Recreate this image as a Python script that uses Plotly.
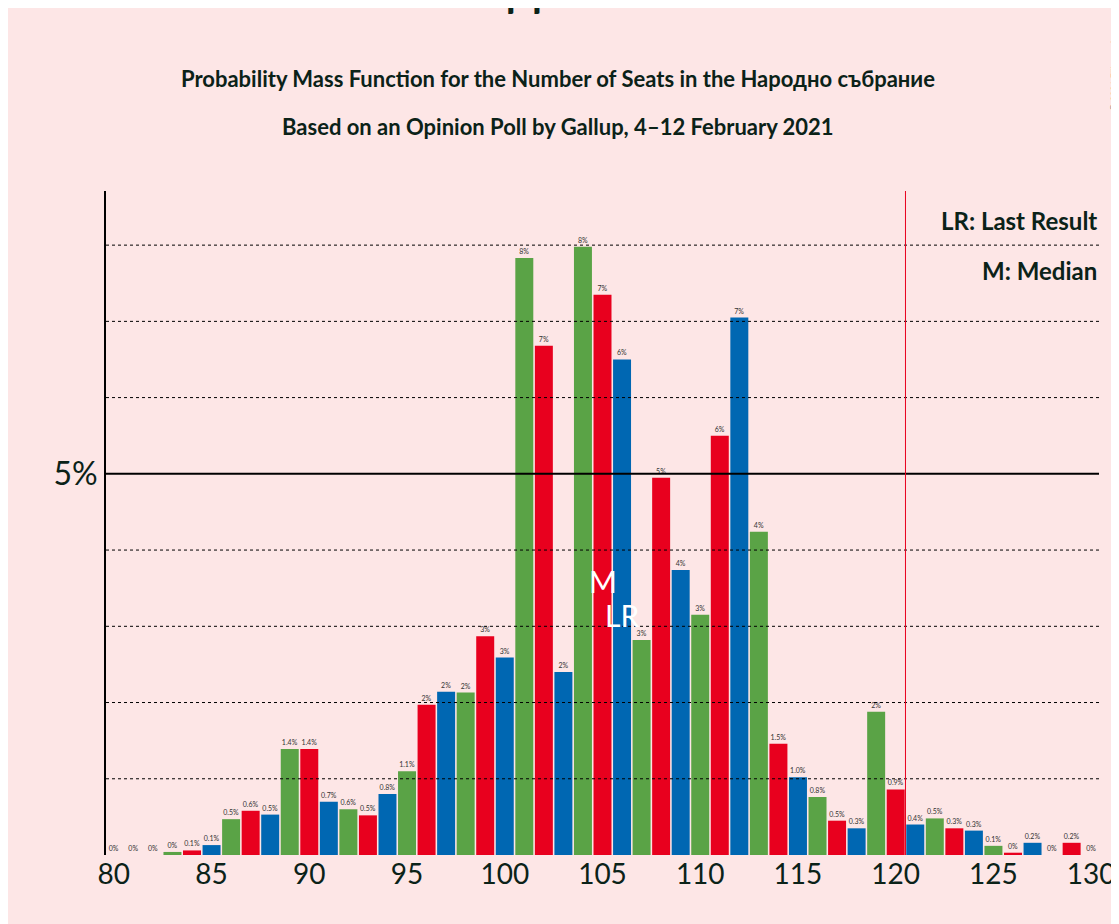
import plotly.graph_objects as go

seats = list(range(80, 131))
probs = [0.0, 0.0, 0.0, 0.04, 0.06, 0.13, 0.47, 0.58, 0.53, 1.39, 1.39,
         0.7, 0.6, 0.52, 0.8, 1.1, 1.97, 2.14, 2.13, 2.87, 2.59,
         7.83, 6.68, 2.4, 7.98, 7.35, 6.5, 2.82, 4.95, 3.74, 3.15,
         5.5, 7.05, 4.24, 1.46, 1.02, 0.76, 0.45, 0.35, 1.88, 0.86,
         0.4, 0.48, 0.35, 0.32, 0.12, 0.03, 0.16, 0.0, 0.16, 0.0]
palette = ["#5AA346", "#E8001E", "#0067B2"]  # green, red, blue cycle
last_result = 106
median = 105

colors = [palette[(s - 80) % 3] for s in seats]
colors[0] = palette[1]


def label(v):
    if v < 1.5:
        return "0%" if v < 0.05 else f"{v:.1f}%"
    return f"{round(v)}%"


fig = go.Figure(go.Bar(
    x=seats, y=probs, marker_color=colors, marker_line_width=0,
    text=[label(v) for v in probs], textposition="outside",
    textfont=dict(size=7, color="#333"), cliponaxis=False,
))

for g in [1, 2, 3, 4, 6, 7, 8]:
    fig.add_hline(y=g, line=dict(color="black", width=1, dash="dot"))
fig.add_hline(y=5, line=dict(color="black", width=2))
fig.add_vline(x=120.5, line=dict(color="#E8001E", width=1))

fig.add_annotation(x=median, y=3.6, text="M", showarrow=False,
                   font=dict(size=30, color="white", family="Lato"))
fig.add_annotation(x=last_result, y=3.15, text="LR", showarrow=False,
                   font=dict(size=30, color="white", family="Lato"))

fig.update_layout(
    width=1119, height=924, paper_bgcolor="#FDE6E6", plot_bgcolor="#FDE6E6",
    margin=dict(l=98, r=21, t=183, b=77), bargap=0.08, showlegend=False,
    font=dict(family="Lato", color="#0B2218"),
    xaxis=dict(range=[79.6, 130.4], tickvals=[80, 85, 90, 95, 100, 105, 110, 115, 120, 125, 130],
               tickfont=dict(size=28), showgrid=False, zeroline=False, showline=False, ticks=""),
    yaxis=dict(range=[0, 8.71], tickvals=[5], ticktext=["5%"], tickfont=dict(size=32),
               showgrid=False, zeroline=False, showline=True, linecolor="black", linewidth=2),
    annotations=list(fig.layout.annotations) + [
        dict(text="<b>БСП – ДПС – ИС.Б</b>", x=0.5, y=50, xref="paper", yref="paper", showarrow=False),
    ][:0],
)
fig.add_annotation(text="<b>БСП – ДПС – ИС.Б</b>", xref="paper", yref="paper", x=0.5, y=1.3,
                   xanchor="center", yanchor="middle", showarrow=False, font=dict(size=40, family="Lato"),
                   xshift=-45)
fig.add_annotation(text="<b>Probability Mass Function for the Number of Seats in the Народно събрание</b>",
                   xref="paper", yref="paper", x=0.5, y=1.193, xshift=-45, showarrow=False,
                   font=dict(size=22, family="Lato"))
fig.add_annotation(text="<b>Based on an Opinion Poll by Gallup, 4–12 February 2021</b>",
                   xref="paper", yref="paper", x=0.5, y=1.12, xshift=-45, showarrow=False,
                   font=dict(size=22, family="Lato"))
fig.add_annotation(text="<b>LR: Last Result</b>", xref="paper", yref="paper", x=1, y=0.98,
                   xanchor="right", showarrow=False, font=dict(size=24, family="Lato"))
fig.add_annotation(text="<b>M: Median</b>", xref="paper", yref="paper", x=1, y=0.905,
                   xanchor="right", showarrow=False, font=dict(size=24, family="Lato"))
fig.add_annotation(text="© 2021 Filip van Laenen", xref="paper", yref="paper", x=1.015, y=1.27,
                   textangle=-90, xanchor="center", yanchor="top", showarrow=False,
                   font=dict(size=9, color="#555"))

fig.write_html("out.html")
